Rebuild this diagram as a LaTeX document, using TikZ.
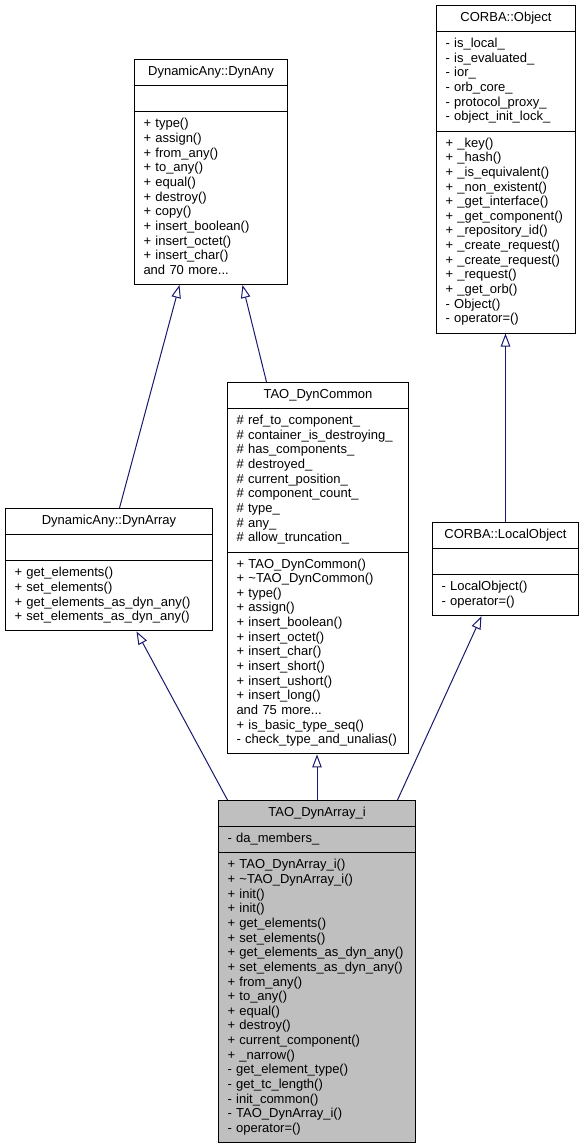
\documentclass[tikz,border=0pt]{standalone}
\usepackage{fontspec}
\setmainfont{Liberation Sans}
\usetikzlibrary{shapes.multipart,arrows.meta}
\definecolor{edgeblue}{RGB}{25,25,112}
\definecolor{boxgrey}{RGB}{191,191,191}
\newcommand{\classtitle}[1]{\makebox[\linewidth]{\strut#1}}
\begin{document}
\begin{tikzpicture}[x=1pt,y=-1pt,
    classbox/.style={rectangle split,rectangle split parts=3,draw=black,
      line width=1pt,fill=white,anchor=north west,inner xsep=9pt,
      inner ysep=5.25pt,align=left,font=\fontsize{13}{14.65}\selectfont},
    inherit/.style={edgeblue,line width=1pt,
      -{Triangle[open,length=13pt,width=9.5pt]}}]
    \fill [white] (0,0) rectangle (584,1147);
    \useasboundingbox (0,0) rectangle (584,1147);

    \coordinate (dynany-nw) at (134,59);
    \coordinate (corbaobj-nw) at (436,5);
    \coordinate (dyncommon-nw) at (227,382);
    \coordinate (dynarray-nw) at (5,508);
    \coordinate (localobj-nw) at (432,522);
    \coordinate (dynarrayi-nw) at (218,800);

    \node [classbox,text width=135pt] (dynany) at (dynany-nw)
    {\classtitle{DynamicAny::DynAny}
      \nodepart{two}\strut
      \nodepart{three}\strut + type()\\ + assign()\\ + from\_any()\\
      + to\_any()\\ + equal()\\ + destroy()\\ + copy()\\
      + insert\_boolean()\\ + insert\_octet()\\ + insert\_char()\\
      and 70 more...\strut};

    \node [classbox,text width=121pt] (corbaobj) at (corbaobj-nw)
    {\classtitle{CORBA::Object}
      \nodepart{two}\strut - is\_local\_\\ - is\_evaluated\_\\ - ior\_\\
      - orb\_core\_\\ - protocol\_proxy\_\\ - object\_init\_lock\_\strut
      \nodepart{three}\strut + \_key()\\ + \_hash()\\ + \_is\_equivalent()\\
      + \_non\_existent()\\ + \_get\_interface()\\ + \_get\_component()\\
      + \_repository\_id()\\ + \_create\_request()\\ + \_create\_request()\\
      + \_request()\\ + \_get\_orb()\\ - Object()\\ - operator=()\strut};

    \node [classbox,text width=163pt] (dyncommon) at (dyncommon-nw)
    {\classtitle{TAO\_DynCommon}
      \nodepart{two}\strut \# ref\_to\_component\_\\
      \# container\_is\_destroying\_\\ \# has\_components\_\\
      \# destroyed\_\\ \# current\_position\_\\ \# component\_count\_\\
      \# type\_\\ \# any\_\\ \# allow\_truncation\_\strut
      \nodepart{three}\strut + TAO\_DynCommon()\\
      + \textasciitilde TAO\_DynCommon()\\ + type()\\ + assign()\\
      + insert\_boolean()\\ + insert\_octet()\\ + insert\_char()\\
      + insert\_short()\\ + insert\_ushort()\\ + insert\_long()\\
      and 75 more...\\ + is\_basic\_type\_seq()\\
      - check\_type\_and\_unalias()\strut};

    \node [classbox,text width=189pt] (dynarray) at (dynarray-nw)
    {\classtitle{DynamicAny::DynArray}
      \nodepart{two}\strut
      \nodepart{three}\strut + get\_elements()\\ + set\_elements()\\
      + get\_elements\_as\_dyn\_any()\\
      + set\_elements\_as\_dyn\_any()\strut};

    \node [classbox,text width=128pt] (localobj) at (localobj-nw)
    {\classtitle{CORBA::LocalObject}
      \nodepart{two}\strut
      \nodepart{three}\strut - LocalObject()\\ - operator=()\strut};

    \node [classbox,fill=boxgrey,text width=179pt] (dynarrayi)
    at (dynarrayi-nw)
    {\classtitle{TAO\_DynArray\_i}
      \nodepart{two}\strut - da\_members\_
      \nodepart{three}\strut + TAO\_DynArray\_i()\\
      + \textasciitilde TAO\_DynArray\_i()\\ + init()\\ + init()\\
      + get\_elements()\\ + set\_elements()\\
      + get\_elements\_as\_dyn\_any()\\ + set\_elements\_as\_dyn\_any()\\
      + from\_any()\\ + to\_any()\\ + equal()\\ + destroy()\\
      + current\_component()\\ + \_narrow()\\ - get\_element\_type()\\
      - get\_tc\_length()\\ - init\_common()\\ - TAO\_DynArray\_i()\\
      - operator=()\strut};

    \draw [inherit] ([xshift=10.5pt]dynarray.north)
    -- ([xshift=-31.5pt]dynany.south);
    \draw [inherit] ([xshift=-51.5pt]dyncommon.north)
    -- ([xshift=31.5pt]dynany.south);
    \draw [inherit] (localobj.north) -- (localobj.north |- corbaobj.south);
    \draw [inherit] ([xshift=-89.5pt]dynarrayi.north)
    -- ([xshift=27.5pt]dynarray.south);
    \draw [inherit] (dynarrayi.north) -- (dynarrayi.north |- dyncommon.south);
    \draw [inherit] ([xshift=80.5pt]dynarrayi.north)
    -- ([xshift=-24pt]localobj.south);
  \end{tikzpicture}
\end{document}
